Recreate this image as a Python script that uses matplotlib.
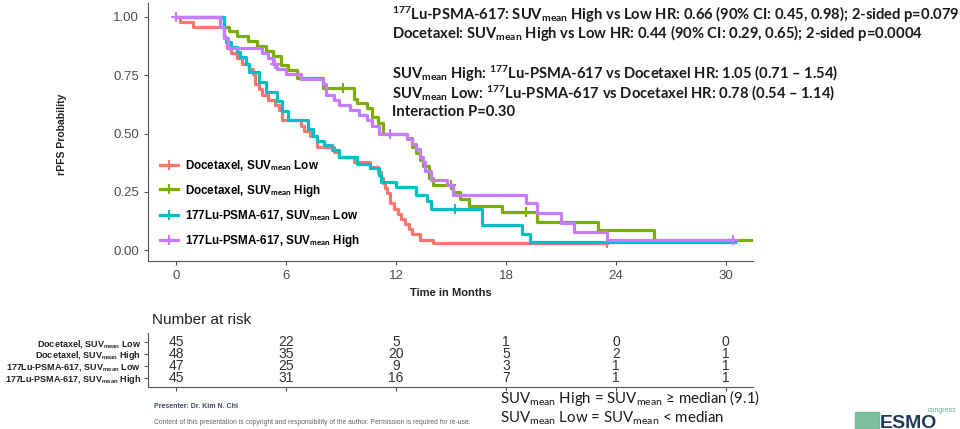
import matplotlib
matplotlib.use("Agg")
import matplotlib.pyplot as plt
from matplotlib.patches import Rectangle

plt.rcParams["font.family"] = ["Liberation Sans", "DejaVu Sans"]
plt.rcParams["mathtext.fontset"] = "custom"
plt.rcParams["mathtext.rm"] = "Lato"
plt.rcParams["mathtext.bf"] = "Lato:bold"
plt.rcParams["mathtext.it"] = "Lato:italic"

# Kaplan-Meier step data (months, survival)
doc_low_t = [0, 0.2, 0.9, 2.6, 2.8, 3.0, 3.3, 3.6, 4.0, 4.2, 4.3, 4.5, 4.7, 5.0, 5.4, 5.6, 5.8,
             6.8, 7.0, 7.3, 7.7, 8.6, 8.9, 9.7, 10.6, 11.0, 11.2, 11.3, 11.4, 11.5, 11.7, 11.9,
             12.1, 12.3, 12.5, 12.7, 12.9, 13.3, 14.0, 23.5]
doc_low_s = [1.0, 0.978, 0.956, 0.911, 0.867, 0.844, 0.822, 0.80, 0.778, 0.756, 0.711, 0.689,
             0.667, 0.644, 0.622, 0.60, 0.556, 0.533, 0.511, 0.489, 0.444, 0.422, 0.40, 0.378,
             0.356, 0.333, 0.311, 0.289, 0.267, 0.244, 0.20, 0.178, 0.156, 0.133, 0.111, 0.089,
             0.067, 0.044, 0.03, 0.03]

doc_high_t = [0, 2.6, 2.9, 3.3, 3.9, 4.4, 4.9, 5.3, 5.7, 6.1, 6.6, 8.0, 9.7, 9.9, 10.4, 10.7,
              11.0, 11.3, 12.6, 12.9, 13.1, 13.3, 13.5, 13.8, 14.0, 15.1, 15.5, 16.0, 17.8, 19.7,
              23.0, 26.1, 31.4]
doc_high_s = [1.0, 0.958, 0.938, 0.917, 0.896, 0.875, 0.854, 0.833, 0.792, 0.771, 0.74, 0.695,
              0.65, 0.63, 0.61, 0.57, 0.545, 0.50, 0.48, 0.44, 0.415, 0.385, 0.36, 0.31, 0.28,
              0.25, 0.22, 0.19, 0.165, 0.12, 0.085, 0.043, 0.043]

lu_low_t = [0, 2.6, 2.7, 3.0, 3.3, 3.5, 3.8, 4.0, 4.5, 4.9, 5.5, 5.8, 6.1, 7.2, 7.5, 7.7, 8.1,
            8.5, 8.9, 9.9, 10.6, 11.1, 11.2, 12.0, 13.1, 13.7, 13.9, 16.7, 18.9, 19.3, 30.5]
lu_low_s = [1.0, 0.915, 0.894, 0.872, 0.851, 0.83, 0.80, 0.766, 0.723, 0.68, 0.638, 0.596, 0.56,
            0.52, 0.49, 0.47, 0.45, 0.43, 0.40, 0.37, 0.35, 0.32, 0.29, 0.27, 0.235, 0.21, 0.175,
            0.107, 0.07, 0.035, 0.035]

lu_high_t = [0, 2.4, 2.6, 2.85, 4.7, 5.0, 5.3, 5.5, 6.0, 6.8, 8.0, 8.2, 8.6, 8.9, 9.5, 10.0,
             10.4, 10.7, 11.1, 12.6, 12.9, 13.1, 13.3, 13.5, 13.6, 13.9, 14.8, 15.1, 19.1, 19.7,
             21.0, 21.7, 23.5, 30.4]
lu_high_s = [1.0, 0.956, 0.911, 0.867, 0.844, 0.822, 0.80, 0.778, 0.756, 0.733, 0.711, 0.667,
             0.644, 0.622, 0.60, 0.578, 0.556, 0.533, 0.50, 0.478, 0.456, 0.433, 0.40, 0.378,
             0.34, 0.30, 0.28, 0.235, 0.20, 0.16, 0.115, 0.077, 0.043, 0.043]

# censored observations
doc_low_cens = ([23.5], [0.03])
doc_high_cens = ([9.1, 15.0, 19.1], [0.695, 0.28, 0.165])
lu_low_cens = ([15.2], [0.175])
lu_high_cens = ([0, 5.4, 11.7, 30.4], [1.0, 0.80, 0.50, 0.043])

labels = ["Docetaxel, SUV$_{\\mathbf{mean}}$ Low",
          "Docetaxel, SUV$_{\\mathbf{mean}}$ High",
          "177Lu-PSMA-617, SUV$_{\\mathbf{mean}}$ Low",
          "177Lu-PSMA-617, SUV$_{\\mathbf{mean}}$ High"]
colors = ["#F8766D", "#7CAE00", "#00BFC4", "#C77CFF"]

risk_times = [0, 6, 12, 18, 24, 30]
risk_doc_low = [45, 22, 5, 1, 0, 0]
risk_doc_high = [48, 35, 20, 5, 2, 1]
risk_lu_low = [47, 25, 9, 3, 1, 1]
risk_lu_high = [45, 31, 16, 7, 1, 1]

W, H = 960, 429
fig = plt.figure(figsize=(W / 100, H / 100), dpi=100)


def frac(x0, y0, x1, y1):
    return [x0 / W, 1 - y1 / H, (x1 - x0) / W, (y1 - y0) / H]


ax = fig.add_axes(frac(148, 3, 753, 261))
curves = [(doc_low_t, doc_low_s, doc_low_cens),
          (doc_high_t, doc_high_s, doc_high_cens),
          (lu_low_t, lu_low_s, lu_low_cens),
          (lu_high_t, lu_high_s, lu_high_cens)]
for (t, s, cens), c in zip(curves, colors):
    ax.step(t, s, where="post", color=c, lw=2.3)
    ax.plot(cens[0], cens[1], "+", color=c, ms=7, mew=1.5)

ax.set_xlim(-1.53, 31.48)
ax.set_ylim(-0.047, 1.06)
ax.set_xticks(risk_times)
ax.set_yticks([0, 0.25, 0.5, 0.75, 1.0])
ax.set_yticklabels(["0.00", "0.25", "0.50", "0.75", "1.00"])
ax.tick_params(labelsize=9.5, labelcolor="#4D4D4D", color="#555555", length=3)
for sp in ["top", "right"]:
    ax.spines[sp].set_visible(False)
for sp in ["left", "bottom"]:
    ax.spines[sp].set_color("#555555")
ax.set_xlabel("Time in Months", fontsize=8, fontweight="bold", color="#222222", labelpad=4)
fig.text(62 / W, 1 - 134 / H, "rPFS Probability", rotation=90, fontsize=7.5,
         fontweight="bold", color="#222222", ha="center", va="center")

handles = [plt.Line2D([], [], color=c, lw=2.3, marker="+", ms=7, mew=1.5) for c in colors]
ax.legend(handles, labels, loc="upper left", frameon=False,
          bbox_to_anchor=(155 / W, 1 - 153 / H), bbox_transform=fig.transFigure,
          prop={"weight": "bold", "size": 8.4}, handlelength=1.6, handletextpad=0.6,
          labelspacing=0.85, borderaxespad=0)

# statistics block
stats = [
    (15, "$^{\\mathbf{177}}$Lu-PSMA-617: SUV$_{\\mathbf{mean}}$ High vs Low HR: 0.66 (90% CI: 0.45, 0.98); 2-sided p=0.079"),
    (33, "Docetaxel: SUV$_{\\mathbf{mean}}$ High vs Low HR: 0.44 (90% CI: 0.29, 0.65); 2-sided p=0.0004"),
    (74, "SUV$_{\\mathbf{mean}}$ High: $^{\\mathbf{177}}$Lu-PSMA-617 vs Docetaxel HR: 1.05 (0.71 \u2013 1.54)"),
    (93, "SUV$_{\\mathbf{mean}}$ Low: $^{\\mathbf{177}}$Lu-PSMA-617 vs Docetaxel HR: 0.78 (0.54 \u2013 1.14)"),
    (112, "Interaction P=0.30"),
]
for y, s in stats:
    fig.text(392 / W, 1 - y / H, s, fontsize=10.6, fontweight="bold", family="Lato",
             color="#1a1a1a", va="center")

# number at risk table
fig.text(152 / W, 1 - 320 / H, "Number at risk", fontsize=11, color="#222222", va="center")
rax = fig.add_axes(frac(148, 333, 753, 387))
rax.set_xlim(-1.53, 31.48)
rax.set_ylim(-0.75, 3.75)
rows = [risk_doc_low, risk_doc_high, risk_lu_low, risk_lu_high]
for i, row in enumerate(rows):
    for t, n in zip(risk_times, row):
        rax.text(t, 3 - i, str(n), ha="center", va="center", fontsize=10, color="#333333")
rax.set_yticks([3, 2, 1, 0])
rax.set_yticklabels(labels, fontsize=6.5, fontweight="bold", color="#222222")
rax.set_xticks(risk_times)
rax.set_xticklabels([])
rax.tick_params(length=3, color="#555555", pad=2)
for sp in ["top", "right"]:
    rax.spines[sp].set_visible(False)
for sp in ["left", "bottom"]:
    rax.spines[sp].set_color("#555555")

# definitions and footer
fig.text(500 / W, 1 - 398 / H, "SUV$_{\\mathrm{mean}}$ High = SUV$_{\\mathrm{mean}}$ \u2265 median (9.1)",
         fontsize=10.8, family="Lato", color="#1a1a1a", va="center")
fig.text(500 / W, 1 - 418 / H, "SUV$_{\\mathrm{mean}}$ Low = SUV$_{\\mathrm{mean}}$ < median",
         fontsize=10.8, family="Lato", color="#1a1a1a", va="center")
fig.text(154 / W, 1 - 406 / H, "Presenter: Dr. Kim N. Chi", fontsize=5, fontweight="bold",
         color="#3b4a66", va="center")
fig.text(154 / W, 1 - 423 / H,
         "Content of this presentation is copyright and responsibility of the author. Permission is required for re-use.",
         fontsize=4.9, color="#666666", va="center")

# congress logo
fig.patches.append(Rectangle((855 / W, 0), 24 / W, 17 / H, transform=fig.transFigure,
                             color="#5fae8a", alpha=0.8))
fig.text(880 / W, -3 / H, "ESMO", fontsize=14, fontweight="bold", color="#1f3a5f", va="bottom")
fig.text(928 / W, 1 - 410 / H, "congress", fontsize=5, color="#5fae8a", va="center")

fig.savefig("out.png", dpi=100)
